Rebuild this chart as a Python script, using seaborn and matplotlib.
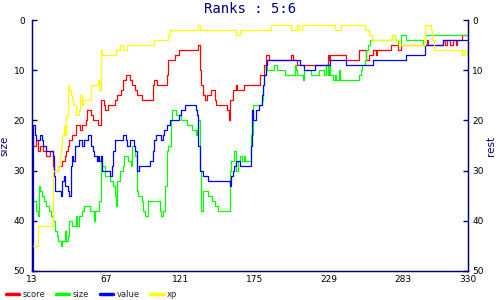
import matplotlib
matplotlib.use("Agg")
import matplotlib.pyplot as plt
import seaborn as sns
import pandas as pd

# ---- data (rank; value holds until next x) ----
score_steps = [(13,23),(14,25),(16,24),(17,26),(19,25),(21,26),(23,27),(26,26),(28,29),(29,30),(32,29),
               (35,28),(37,27),(38,26),(39,25),(40,24),(42,23),(45,21),(48,22),(49,21),(52,20),(53,18),
               (56,19),(57,20),(61,21),(63,16),(65,17),(66,18),(68,17),(73,16),(75,15),(78,14),(79,12),
               (81,11),(84,12),(86,13),(88,14),(89,15),(93,16),(101,13),(102,12),(104,13),(111,11),(112,8),
               (117,7),(120,6),(134,5),(135,10),(136,13),(137,15),(139,16),(140,15),(143,14),(146,16),
               (147,17),(155,18),(156,20),(157,16),(159,14),(161,13),(162,14),(167,13),(179,11),(182,9),
               (183,7),(185,8),(201,7),(203,8),(206,9),(228,7),(229,8),(230,7),(241,8),(251,6),(256,8),
               (258,7),(261,6),(263,7),(264,6),(274,5),(279,6),(281,5),(300,4),(301,5),(312,4),(313,5),
               (315,4),(317,5),(319,4),(321,5),(322,4),(326,3),(330,3)]
size_steps = [(13,35),(14,36),(16,38),(17,39),(18,33),(19,34),(20,35),(22,36),(23,37),(25,38),(27,39),
              (28,40),(30,42),(31,43),(32,44),(34,45),(35,44),(37,42),(38,44),(39,43),(40,40),(42,41),
              (45,39),(46,41),(47,39),(49,38),(51,37),(55,38),(58,40),(59,38),(62,36),(63,28),(64,29),
              (66,31),(70,32),(72,33),(73,35),(74,37),(75,32),(77,30),(79,29),(80,27),(83,28),(85,29),
              (86,25),(88,27),(89,34),(90,35),(93,36),(94,38),(95,39),(97,36),(106,38),(107,39),(108,38),
              (110,33),(111,26),(112,25),(114,20),(115,18),(118,19),(121,20),(126,21),(129,22),(132,23),
              (133,22),(134,20),(135,30),(136,38),(137,34),(141,35),(144,36),(146,37),(148,38),(157,30),
              (158,28),(160,26),(161,30),(163,28),(164,27),(166,28),(167,27),(168,28),(172,23),(174,17),
              (180,16),(181,13),(182,11),(183,9),(184,10),(189,9),(191,10),(197,11),(204,9),(205,10),
              (206,11),(210,12),(211,10),(216,11),(222,10),(225,11),(227,9),(228,11),(229,9),(230,11),
              (232,12),(233,11),(234,12),(236,10),(237,12),(251,11),(252,10),(253,9),(255,8),(256,6),
              (257,5),(259,4),(275,3),(277,4),(279,5),(281,3),(285,4),(297,5),(299,3),(330,3)]
value_steps = [(13,50),(14,21),(15,23),(16,24),(19,23),(20,24),(21,25),(23,26),(28,27),(29,31),(30,34),
               (34,35),(35,32),(36,31),(37,33),(39,34),(40,35),(41,29),(42,27),(43,28),(44,25),(47,24),
               (49,25),(51,24),(54,23),(56,25),(57,26),(58,27),(60,28),(61,27),(62,28),(63,27),(64,30),
               (70,31),(71,29),(72,26),(73,24),(79,23),(81,24),(82,25),(84,24),(87,25),(88,26),(89,30),
               (91,29),(99,28),(101,26),(102,24),(103,23),(107,24),(108,23),(109,22),(111,21),(113,20),
               (120,19),(121,18),(124,17),(132,18),(133,19),(134,25),(135,30),(137,31),(141,32),(157,33),
               (158,31),(159,30),(160,29),(161,28),(164,29),(172,25),(173,18),(174,20),(176,18),(178,17),
               (180,15),(181,13),(182,11),(183,9),(184,8),(208,9),(211,10),(219,9),(230,8),(241,9),
               (261,8),(285,7),(299,5),(312,4),(330,4)]
xp_steps = [(13,45),(17,41),(28,30),(32,29),(33,27),(34,25),(35,23),(36,21),(37,23),(38,19),(39,13),
            (40,14),(41,15),(42,16),(43,17),(45,19),(47,18),(48,15),(49,17),(50,16),(56,13),(61,12),
            (62,14),(63,6),(64,7),(74,6),(77,5),(79,6),(82,5),(102,4),(112,3),(113,2),(134,1),(135,2),
            (161,3),(164,2),(187,1),(201,2),(206,1),(207,2),(209,1),(233,2),(238,1),(255,2),(258,3),
            (260,4),(275,3),(277,4),(280,5),(299,1),(303,2),(304,4),(305,6),(326,7),(327,6),(329,7),(330,6)]

series_names = ["score", "size", "value", "xp"]
series_colors = ["#ff0000", "#00ff00", "#0000ff", "#ffff00"]
x_ticks = [13, 67, 121, 175, 229, 283, 330]
y_ticks = [0, 10, 20, 30, 40, 50]
title = "Ranks : 5:6"

rows = []
for name, steps in zip(series_names, [score_steps, size_steps, value_steps, xp_steps]):
    for x, y in steps:
        rows.append({"x": x, "rank": y, "series": name})
df = pd.DataFrame(rows)

sns.set_style("white")
plt.rcParams["font.family"] = ["DejaVu Sans"]
navy = "#000080"

fig = plt.figure(figsize=(5, 3), dpi=100)
ax = fig.add_axes([32/500, 1-271/300, 436/500, 251/300])
sns.lineplot(data=df, x="x", y="rank", hue="series", hue_order=series_names,
             palette=dict(zip(series_names, series_colors)), estimator=None,
             drawstyle="steps-post", linewidth=0.9, ax=ax, legend=True)

ax.set_xlim(13, 330)
ax.set_ylim(50, 0)
ax.set_xticks(x_ticks)
ax.set_yticks(y_ticks)
ax.set_xlabel("")
ax.set_ylabel("size", color=navy, fontsize=7.5)
ax.yaxis.set_label_coords(-0.052, 0.5)
for s in ["left", "bottom", "right"]:
    ax.spines[s].set_color(navy)
    ax.spines[s].set_linewidth(1.0)
ax.spines["top"].set_visible(False)
ax.tick_params(axis="both", direction="in", length=3.5, width=1, color=navy,
               labelsize=6.5, labelcolor="black")
ax.tick_params(axis="y", pad=5)
ax.tick_params(axis="x", pad=3)

ax2 = ax.twinx()
ax2.set_ylim(50, 0)
ax2.set_yticks(y_ticks)
ax2.set_ylabel("rest", color=navy, fontsize=7.5)
ax2.yaxis.set_label_coords(1.042, 0.5)
for s in ["left", "bottom", "right"]:
    ax2.spines[s].set_color(navy)
ax2.spines["top"].set_visible(False)
ax2.tick_params(axis="y", direction="in", length=3.5, width=1, color=navy,
                labelsize=6.5, labelcolor="black", pad=3)

fig.text(0.5, 1-9/300, title, ha="center", va="center", color=navy,
         fontsize=10, family="DejaVu Sans Mono")

handles, labels = ax.get_legend_handles_labels()
ax.get_legend().remove()
leg = fig.legend(handles, labels, loc="lower left", bbox_to_anchor=(4/500, -1/300),
                 ncol=4, frameon=False, fontsize=6, handlelength=1.6,
                 handletextpad=0.4, columnspacing=1.3, borderpad=0.2, borderaxespad=0)
for h in leg.get_lines():
    h.set_linewidth(2.5)

fig.savefig("out.png", dpi=100, facecolor="white")
